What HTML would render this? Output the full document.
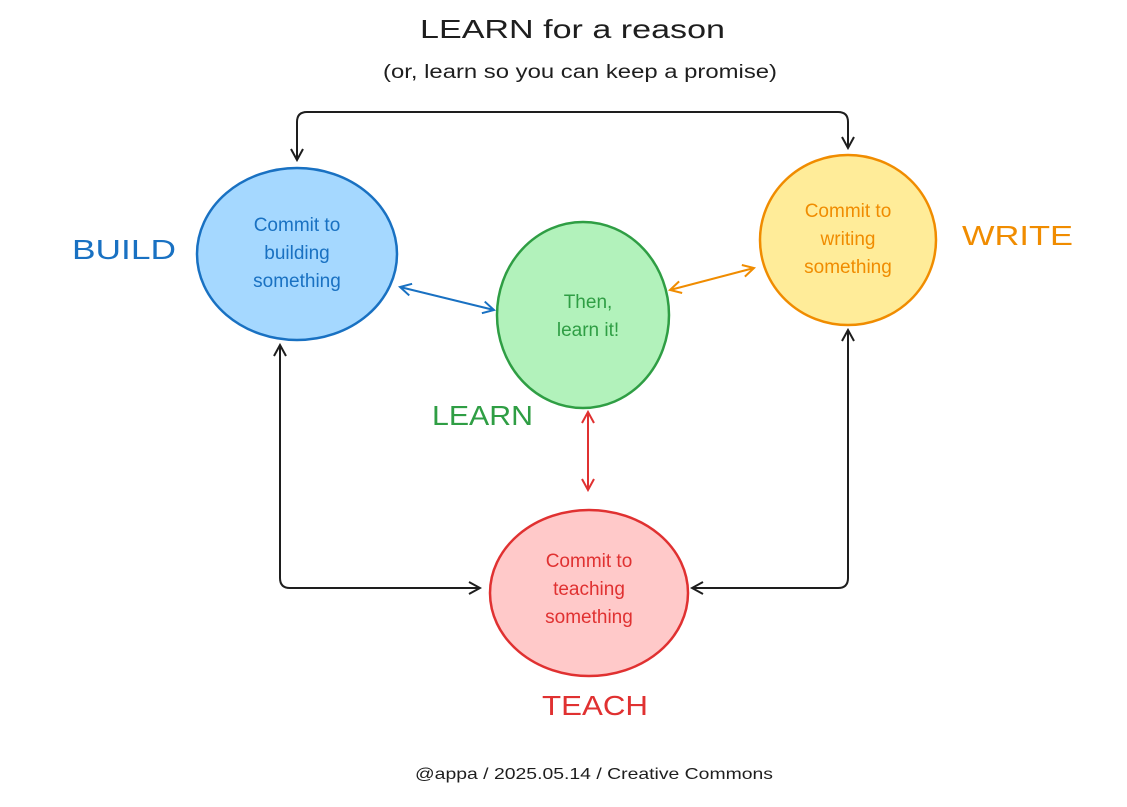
<!DOCTYPE html>
<html><head><meta charset="utf-8"><style>
html,body{margin:0;padding:0;background:#fff;}
svg{display:block;font-family:"Liberation Sans","DejaVu Sans",sans-serif;}
</style></head><body>
<svg width="1127" height="807" viewBox="0 0 1127 807" xmlns="http://www.w3.org/2000/svg">
<defs>
<marker id="ak" markerWidth="14" markerHeight="14" refX="12" refY="7" orient="auto-start-reverse" markerUnits="userSpaceOnUse"><path d="M1,1 L12,7 L1,13" fill="none" stroke="#1e1e1e" stroke-width="2"/></marker>
<marker id="ab" markerWidth="14" markerHeight="14" refX="12" refY="7" orient="auto-start-reverse" markerUnits="userSpaceOnUse"><path d="M1,1 L12,7 L1,13" fill="none" stroke="#1971c2" stroke-width="2"/></marker>
<marker id="ao" markerWidth="14" markerHeight="14" refX="12" refY="7" orient="auto-start-reverse" markerUnits="userSpaceOnUse"><path d="M1,1 L12,7 L1,13" fill="none" stroke="#f08c00" stroke-width="2"/></marker>
<marker id="ar" markerWidth="14" markerHeight="14" refX="12" refY="7" orient="auto-start-reverse" markerUnits="userSpaceOnUse"><path d="M1,1 L12,7 L1,13" fill="none" stroke="#e03131" stroke-width="2"/></marker>
</defs>
<text x="420" y="38" font-size="26" textLength="305" lengthAdjust="spacingAndGlyphs" fill="#1e1e1e">LEARN for a reason</text>
<text x="383" y="78" font-size="19" textLength="394" lengthAdjust="spacingAndGlyphs" fill="#1e1e1e">(or, learn so you can keep a promise)</text>

<path d="M297,160 L297,122 Q297,112 307,112 L838,112 Q848,112 848,122 L848,148" fill="none" stroke="#1e1e1e" stroke-width="2" marker-start="url(#ak)" marker-end="url(#ak)"/>
<path d="M280,345 L280,578 Q280,588 290,588 L480,588" fill="none" stroke="#1e1e1e" stroke-width="2" marker-start="url(#ak)" marker-end="url(#ak)"/>
<path d="M848,330 L848,578 Q848,588 838,588 L692,588" fill="none" stroke="#1e1e1e" stroke-width="2" marker-start="url(#ak)" marker-end="url(#ak)"/>
<path d="M400,287 L494,310" fill="none" stroke="#1971c2" stroke-width="2" marker-start="url(#ab)" marker-end="url(#ab)"/>
<path d="M670,290 L754,268" fill="none" stroke="#f08c00" stroke-width="2" marker-start="url(#ao)" marker-end="url(#ao)"/>
<path d="M588,412 L588,490" fill="none" stroke="#e03131" stroke-width="2" marker-start="url(#ar)" marker-end="url(#ar)"/>

<ellipse cx="297" cy="254" rx="100" ry="86" fill="#a5d8ff" stroke="#1971c2" stroke-width="2.5"/>
<ellipse cx="583" cy="315" rx="86" ry="93" fill="#b2f2bb" stroke="#2f9e44" stroke-width="2.5"/>
<ellipse cx="848" cy="240" rx="88" ry="85" fill="#ffec99" stroke="#f08c00" stroke-width="2.5"/>
<ellipse cx="589" cy="593" rx="99" ry="83" fill="#ffc9c9" stroke="#e03131" stroke-width="2.5"/>

<g font-size="19" text-anchor="middle">
<text x="297" y="231" fill="#1971c2">Commit to</text>
<text x="297" y="259" fill="#1971c2">building</text>
<text x="297" y="287" fill="#1971c2">something</text>
<text x="588" y="308" fill="#2f9e44">Then,</text>
<text x="588" y="336" fill="#2f9e44">learn it!</text>
<text x="848" y="217" fill="#f08c00">Commit to</text>
<text x="848" y="245" fill="#f08c00">writing</text>
<text x="848" y="273" fill="#f08c00">something</text>
<text x="589" y="567" fill="#e03131">Commit to</text>
<text x="589" y="595" fill="#e03131">teaching</text>
<text x="589" y="623" fill="#e03131">something</text>
</g>
<g font-size="28">
<text x="72" y="259" textLength="104" lengthAdjust="spacingAndGlyphs" fill="#1971c2">BUILD</text>
<text x="432" y="425" textLength="101" lengthAdjust="spacingAndGlyphs" fill="#2f9e44">LEARN</text>
<text x="962" y="245" textLength="111" lengthAdjust="spacingAndGlyphs" fill="#f08c00">WRITE</text>
<text x="542" y="715" textLength="106" lengthAdjust="spacingAndGlyphs" fill="#e03131">TEACH</text>
</g>
<text x="415" y="779" font-size="16" textLength="358" lengthAdjust="spacingAndGlyphs" fill="#1e1e1e">@appa / 2025.05.14 / Creative Commons</text>
</svg>
</body></html>
